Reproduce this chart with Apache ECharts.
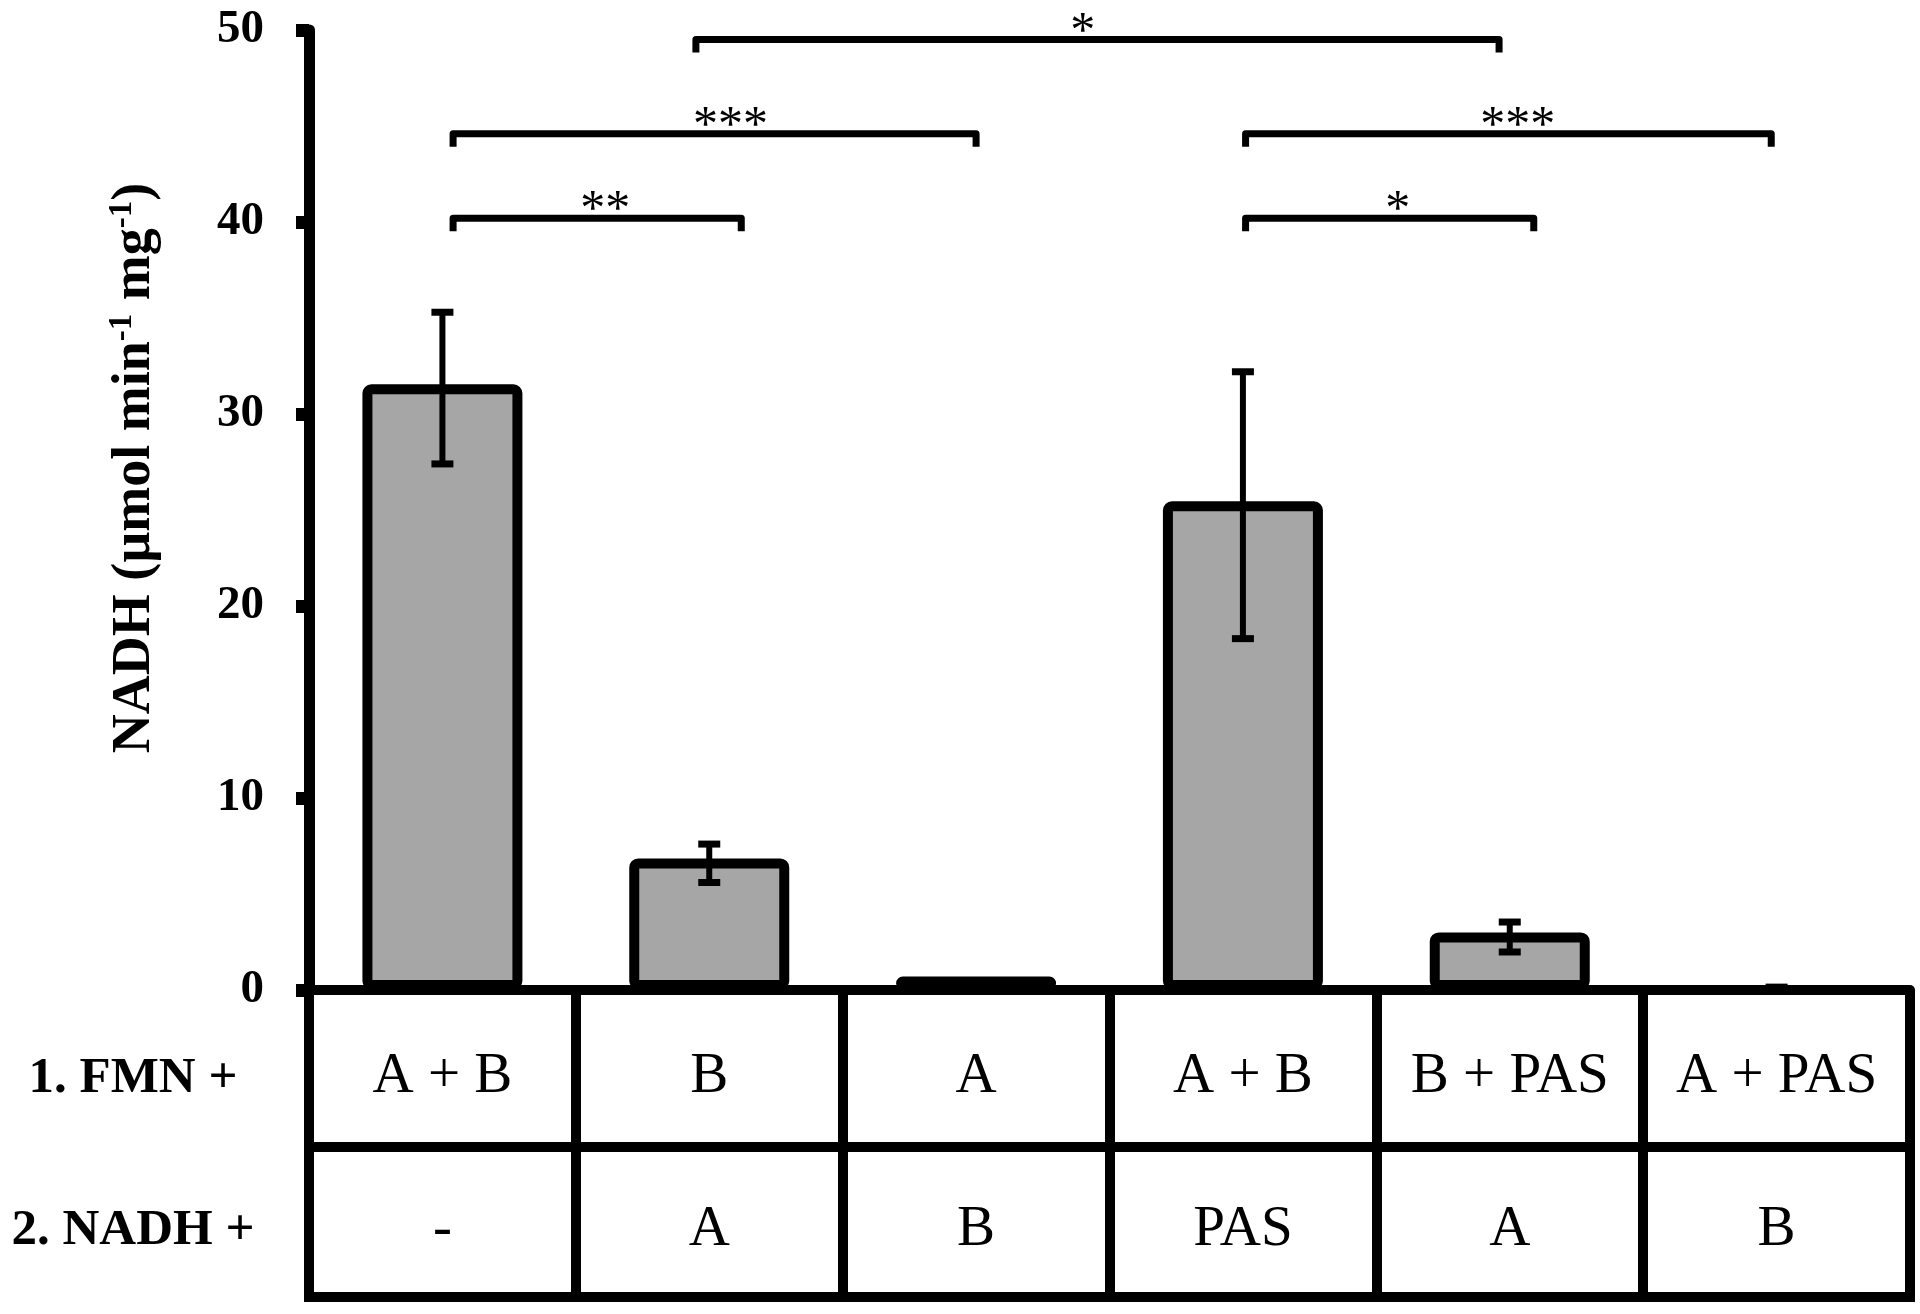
<!DOCTYPE html>
<html>
<head>
<meta charset="utf-8">
<title>NADH activity</title>
<script src="https://cdn.jsdelivr.net/npm/echarts@6/dist/echarts.min.js"></script>
<style>
  html, body { margin: 0; padding: 0; background: #fff; }
  #chart { width: 1920px; height: 1314px; }
</style>
</head>
<body>
<div id="chart"></div>
<script>
// table rows under the bars
const fmnLabels = ['A + B', 'B', 'A', 'A + B', 'B + PAS', 'A + PAS'];
const nadhLabels = ['-', 'A', 'B', 'PAS', 'A', 'B'];
const rowLabels = ['1. FMN +', '2. NADH +'];

// NADH rate (bar top) and error bar ends
const barValues = [31.55, 6.85, 0.7, 25.45, 3.0, 0];
const errLow = [27.4, 5.6, 0.7, 18.3, 1.98, 0];
const errHigh = [35.3, 7.6, 0.7, 32.2, 3.54, 0.15];

// significance brackets (positions in category units)
const sigFrom = [0.04, 0.04, 0.95, 3.01, 3.01];
const sigTo = [1.12, 2.0, 3.96, 4.09, 4.98];
const sigMid = [0.61, 1.08, 2.40, 3.58, 4.03];
const sigLevel = [40.2, 44.6, 49.5, 40.2, 44.6];
const sigLabel = ['**', '***', '*', '*', '***'];

const yTicks = [0, 10, 20, 30, 40, 50];

const serif = 'Liberation Serif';
const cats = fmnLabels.map((v, i) => String(i));

let myChart = echarts.init(document.getElementById('chart'), null, { renderer: 'canvas' });

function errorItem(params, api) {
    let x = api.value(0);
    let top = api.coord([x, api.value(2)]);
    let bot = api.coord([x, api.value(1)]);
    let half = 11;
    return {
        type: 'group',
        children: [{
            type: 'line',
            shape: { x1: top[0], y1: top[1], x2: bot[0], y2: bot[1] },
            style: { stroke: '#000', lineWidth: 6 }
        }, {
            type: 'line',
            shape: { x1: top[0] - half, y1: top[1], x2: top[0] + half, y2: top[1] },
            style: { stroke: '#000', lineWidth: 7 }
        }, {
            type: 'line',
            shape: { x1: bot[0] - half, y1: bot[1], x2: bot[0] + half, y2: bot[1] },
            style: { stroke: '#000', lineWidth: 7 }
        }]
    };
}

function bracketItem(params, api) {
    let i = params.dataIndex;
    let base = api.coord([0, api.value(1)]);
    let band = api.size([1, 0])[0];
    let xa = base[0] + sigFrom[i] * band;
    let xb = base[0] + sigTo[i] * band;
    let y = base[1];
    let leg = 13;
    return {
        type: 'group',
        children: [{
            type: 'polyline',
            shape: { points: [[xa, y + leg], [xa, y], [xb, y], [xb, y + leg]] },
            style: { stroke: '#000', lineWidth: 7, fill: null, lineJoin: 'round' }
        }, {
            type: 'text',
            x: base[0] + sigMid[i] * band,
            y: y - 7,
            style: {
                text: sigLabel[i],
                font: '50px "' + serif + '"',
                fill: '#000',
                align: 'center',
                verticalAlign: 'middle'
            }
        }]
    };
}

let option = {
    animation: false,
    backgroundColor: '#fff',
    grid: {
        left: 309,
        right: 10,
        top: 30,
        bottom: 324
    },
    xAxis: [{
        type: 'category',
        data: cats,
        axisLine: { lineStyle: { color: '#000', width: 10 } },
        axisTick: {
            show: true,
            interval: 0,
            length: 312,
            lineStyle: { color: '#000', width: 10 }
        },
        axisLabel: {
            interval: 0,
            margin: 11,
            color: '#000',
            fontFamily: serif,
            fontSize: 57,
            lineHeight: 153,
            formatter: function(value, index) {
                return fmnLabels[index] + '\n' + nadhLabels[index]
            }
        }
    }, {
        type: 'category',
        data: cats,
        position: 'bottom',
        offset: 157,
        axisLine: { lineStyle: { color: '#000', width: 10 } },
        axisTick: { show: false },
        axisLabel: { show: false }
    }, {
        type: 'category',
        data: cats,
        position: 'bottom',
        offset: 307,
        axisLine: { lineStyle: { color: '#000', width: 10 } },
        axisTick: { show: false },
        axisLabel: { show: false }
    }],
    yAxis: {
        type: 'value',
        min: yTicks[0],
        max: yTicks[yTicks.length - 1],
        interval: yTicks[1] - yTicks[0],
        splitLine: { show: false },
        axisLine: { show: true, lineStyle: { color: '#000', width: 11 } },
        axisTick: { show: true, length: 13, lineStyle: { color: '#000', width: 13 } },
        axisLabel: {
            color: '#000',
            fontFamily: serif,
            fontWeight: 'bold',
            fontSize: 47,
            margin: 45,
            padding: [12, 0, 0, 0]
        }
    },
    graphic: [{
        type: 'text',
        x: 135,
        y: 468,
        rotation: Math.PI / 2,
        style: {
            text: '{a|NADH (µmol min}{s|-1}{a| mg}{s|-1}{a|)}',
            fill: '#000',
            align: 'center',
            verticalAlign: 'middle',
            rich: {
                a: { fontFamily: serif, fontWeight: 'bold', fontSize: 54, lineHeight: 58 },
                s: { fontFamily: serif, fontWeight: 'bold', fontSize: 33, verticalAlign: 'top', lineHeight: 58 }
            }
        }
    }, {
        type: 'text',
        x: 133,
        y: 1079,
        style: {
            text: rowLabels[0],
            font: 'bold 51px "' + serif + '"',
            fill: '#000',
            align: 'center',
            verticalAlign: 'middle'
        }
    }, {
        type: 'text',
        x: 133,
        y: 1231,
        style: {
            text: rowLabels[1],
            font: 'bold 51px "' + serif + '"',
            fill: '#000',
            align: 'center',
            verticalAlign: 'middle'
        }
    }],
    series: [{
        type: 'bar',
        data: barValues,
        barWidth: 160,
        itemStyle: {
            color: '#a6a6a6',
            borderColor: '#000',
            borderWidth: 10,
            borderRadius: 4
        }
    }, {
        type: 'custom',
        renderItem: errorItem,
        encode: { x: 0, y: [1, 2] },
        data: barValues.map((v, i) => [i, errLow[i], errHigh[i]]).filter(d => d[1] !== d[2]),
        z: 3
    }, {
        type: 'custom',
        renderItem: bracketItem,
        encode: { x: 0, y: 1 },
        clip: false,
        data: sigLevel.map((lv, i) => [0, lv]),
        z: 3
    }]
};

myChart.setOption(option);
</script>
</body>
</html>
